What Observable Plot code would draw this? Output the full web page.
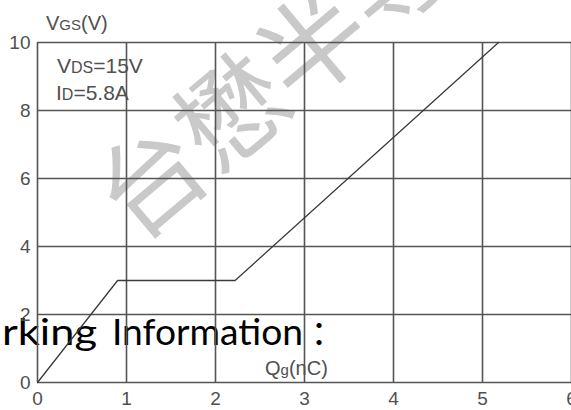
<!DOCTYPE html>
<html>
<head>
<meta charset="utf-8">
<script src="https://cdn.jsdelivr.net/npm/d3@7"></script>
<script src="https://cdn.jsdelivr.net/npm/@observablehq/plot@0.6"></script>
<style>
  html, body { margin: 0; padding: 0; background: #fff; overflow: hidden; }
  #chart { width: 571px; height: 410px; position: relative; }
</style>
</head>
<body>
<div id="chart"></div>
<script>
// Gate charge characteristic
const qg = [0, 0.9, 2.22, 5.18];     // Qg (nC)
const vgs = [0, 3.0, 3.0, 10.0];     // VGS (V)
const xTicks = [0, 1, 2, 3, 4, 5, 6];
const yTicks = [0, 2, 4, 6, 8, 10];

const data = qg.map((q, i) => ({q, v: vgs[i]}));
const gray = "#505050";

const chart = Plot.plot({
  width: 571,
  height: 410,
  marginLeft: 37,
  marginRight: 0,
  marginTop: 42,
  marginBottom: 28,
  x: {domain: [0, 6]},
  y: {domain: [0, 10]},
  style: {background: "white", fontFamily: "'Liberation Sans', Arial, sans-serif", overflow: "visible"},
  marks: [
    Plot.gridX(xTicks, {stroke: "#555", strokeOpacity: 1, strokeWidth: 1.6}),
    Plot.gridY(yTicks, {stroke: "#555", strokeOpacity: 1, strokeWidth: 1.6}),
    Plot.line(data, {x: "q", y: "v", stroke: "#3a3a3a", strokeWidth: 1.3}),
    Plot.axisX(xTicks, {tickSize: 0, tickPadding: 9, fontSize: 19, fill: gray, label: null}),
    Plot.axisY(yTicks, {tickSize: 0, tickPadding: 7, fontSize: 19, fill: gray, label: null})
  ]
});
document.getElementById("chart").appendChild(chart);

const svg = d3.select(chart);
// watermark behind everything
const wm = svg.insert("g", ":first-child").attr("class", "watermark");
wm.append("text")
  .attr("transform", "translate(268,73) rotate(-40)")
  .attr("text-anchor", "middle")
  .attr("dominant-baseline", "central")
  .attr("font-family", "'Noto Sans CJK SC', sans-serif")
  .attr("font-size", 106)
  .attr("font-weight", 400)
  .attr("fill", "#c9c9c9")
  .text("台懋半导");
// background white rect beneath watermark
svg.insert("rect", ":first-child").attr("width", 571).attr("height", 410).attr("fill", "white");

// overlapping document text (below grid lines)
const doc = wm.append("text")
  .attr("y", 345)
  .attr("text-anchor", "start")
  .attr("font-family", "Lato, 'Noto Sans', sans-serif")
  .attr("font-size", 37)
  .attr("fill", "#000");
doc.append("tspan").attr("x", 2).attr("textLength", 95).attr("lengthAdjust", "spacingAndGlyphs").text("rking");
doc.append("tspan").attr("x", 112).attr("textLength", 191).attr("lengthAdjust", "spacingAndGlyphs").text("Information");
wm.append("text")
  .attr("x", 319).attr("y", 347)
  .attr("text-anchor", "middle")
  .attr("font-family", "'Noto Sans CJK JP', sans-serif")
  .attr("font-size", 34)
  .attr("fill", "#000")
  .text("：");

// axis titles and annotations
function label(x, y, parts) {
  const t = svg.append("text").attr("x", x).attr("y", y)
    .attr("text-anchor", "start")
    .attr("font-family", "'Liberation Sans', Arial, sans-serif")
    .attr("fill", gray);
  parts.forEach(([s, size]) => t.append("tspan").attr("font-size", size).text(s));
  return t;
}
label(46, 30, [["V", 20], ["GS", 15], ["(V)", 20]]);
label(57, 73, [["V", 21], ["DS", 16], ["=15V", 21]]);
label(56, 100, [["I", 21], ["D", 16], ["=5.8A", 21]]);
label(265, 375, [["Q", 20], ["g", 15], ["(nC)", 20]]);
</script>
</body>
</html>
